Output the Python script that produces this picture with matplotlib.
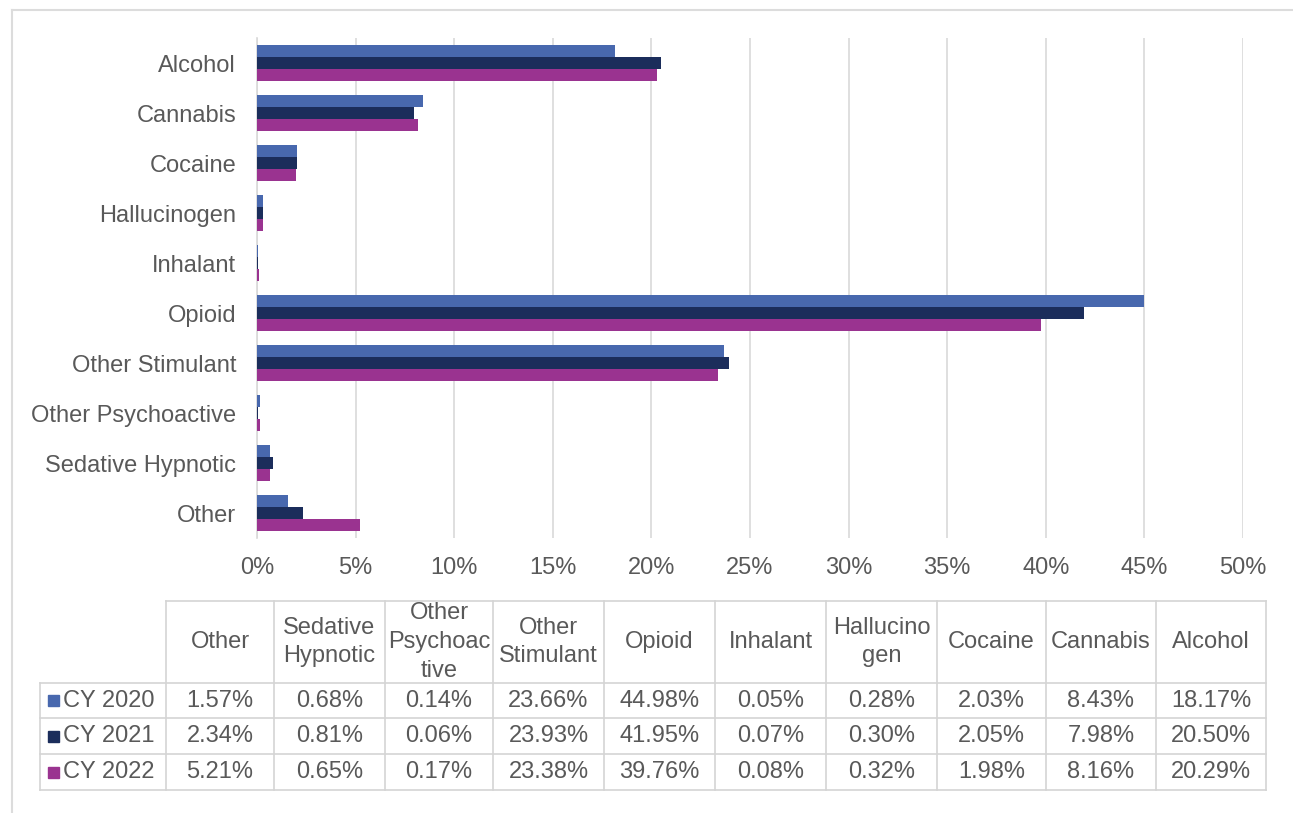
import matplotlib.pyplot as plt
from matplotlib.patches import Rectangle

# share of admissions by primary substance
categories = ['Alcohol', 'Cannabis', 'Cocaine', 'Hallucinogen', 'Inhalant',
              'Opioid', 'Other Stimulant', 'Other Psychoactive',
              'Sedative Hypnotic', 'Other']
cy2020 = [18.17, 8.43, 2.03, 0.28, 0.05, 44.98, 23.66, 0.14, 0.68, 1.57]
cy2021 = [20.50, 7.98, 2.05, 0.30, 0.07, 41.95, 23.93, 0.06, 0.81, 2.34]
cy2022 = [20.29, 8.16, 1.98, 0.32, 0.08, 39.76, 23.38, 0.17, 0.65, 5.21]
series_names = ['CY 2020', 'CY 2021', 'CY 2022']
colors = ['#4868ae', '#1b2d5b', '#9a3390']

# table header text, in the table's own column order (reverse of the bars)
table_headers = ['Other', 'Sedative\nHypnotic', 'Other\nPsychoac\ntive',
                 'Other\nStimulant', 'Opioid', 'Inhalant', 'Hallucino\ngen',
                 'Cocaine', 'Cannabis', 'Alcohol']

ticks = [0, 5, 10, 15, 20, 25, 30, 35, 40, 45, 50]

TEXT = '#595959'
GRID = '#d9d9d9'
W, H = 1293, 813

plt.rcParams['font.family'] = ['Liberation Sans', 'DejaVu Sans']
plt.rcParams['font.size'] = 17

fig = plt.figure(figsize=(W / 100, H / 100), dpi=100)

# bar chart
ax = fig.add_axes([257 / W, 1 - 538 / H, (1243 - 257) / W, 500 / H])
bh = 0.235
series = [cy2020, cy2021, cy2022]
for i, (vals, c) in enumerate(zip(series, colors)):
    ypos = [k + (i - 1) * bh for k in range(len(categories))]
    ax.barh(ypos, vals, height=bh, color=c, zorder=3)

ax.set_xlim(0, 50)
ax.set_ylim(len(categories) - 0.5, -0.5)
ax.set_xticks(ticks)
ax.set_xticklabels([f'{t}%' for t in ticks])
ax.set_yticks(range(len(categories)))
ax.set_yticklabels(categories)
ax.tick_params(axis='both', length=0, colors=TEXT, labelsize=17)
ax.tick_params(axis='x', pad=14)
ax.tick_params(axis='y', pad=15)
ax.grid(axis='x', color=GRID, linewidth=1.2, zorder=0)
for s in ['top', 'right', 'bottom']:
    ax.spines[s].set_visible(False)
ax.spines['left'].set_color(GRID)
ax.spines['left'].set_linewidth(1.2)

# data table drawn on a pixel-space overlay
tab = fig.add_axes([0, 0, 1, 1], zorder=-1)
tab.set_xlim(0, W)
tab.set_ylim(H, 0)
tab.axis('off')

col_edges = [166, 274, 385, 493, 604, 715, 826, 937, 1046, 1156, 1266]
row_edges = [601, 683, 718, 754, 790]
leg_left = 40
lc = '#d4d4d4'

# outer chart frame
tab.plot([12, 12], [10, H], color='#dcdcdc', lw=1.5)
tab.plot([12, W], [10, 10], color='#dcdcdc', lw=1.5)

# horizontal rules
tab.plot([col_edges[0], col_edges[-1]], [row_edges[0]] * 2, color=lc, lw=1.2)
for y in row_edges[1:]:
    tab.plot([leg_left, col_edges[-1]], [y, y], color=lc, lw=1.2)
# vertical rules
tab.plot([leg_left, leg_left], [row_edges[1], row_edges[-1]], color=lc, lw=1.2)
for x in col_edges:
    tab.plot([x, x], [row_edges[0], row_edges[-1]], color=lc, lw=1.2)

# header cells
hy = (row_edges[0] + row_edges[1]) / 2
for j, lab in enumerate(table_headers):
    cx = (col_edges[j] + col_edges[j + 1]) / 2
    tab.text(cx, hy, lab, ha='center', va='center', color=TEXT,
             fontsize=17, linespacing=1.4)

# value rows with legend keys
for r, (name, vals, c) in enumerate(zip(series_names, series, colors)):
    cy = (row_edges[r + 1] + row_edges[r + 2]) / 2
    tab.add_patch(Rectangle((48, cy - 5.5), 11, 11, color=c))
    tab.text(63, cy, name, ha='left', va='center', color=TEXT, fontsize=17)
    for j, v in enumerate(vals[::-1]):
        cx = (col_edges[j] + col_edges[j + 1]) / 2
        tab.text(cx, cy, f'{v:.2f}%', ha='center', va='center',
                 color=TEXT, fontsize=17)

fig.savefig('out.png', dpi=100, facecolor='white')
